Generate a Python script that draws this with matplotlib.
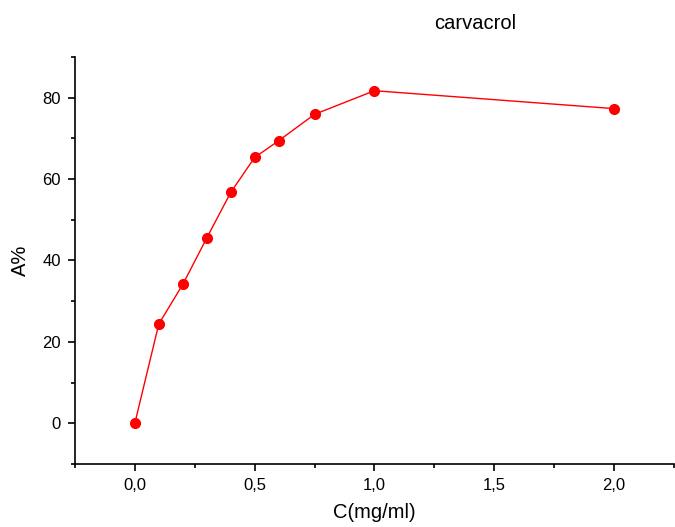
import matplotlib
matplotlib.use("Agg")
import matplotlib.pyplot as plt
from matplotlib.ticker import MultipleLocator, FuncFormatter

# carvacrol inhibition curve
conc = [0.0, 0.1, 0.2, 0.3, 0.4, 0.5, 0.6, 0.75, 1.0, 2.0]
activity = [0.0, 24.4, 34.1, 45.5, 56.7, 65.3, 69.4, 75.9, 81.7, 77.3]

plt.rcParams["font.family"] = ["Liberation Sans", "DejaVu Sans"]

fig = plt.figure(figsize=(6.75, 5.27), dpi=100)
ax = fig.add_axes([0.111, 0.1195, 0.8875, 0.7725])

ax.plot(conc, activity, color="#ff0000", lw=1, marker="o", ms=7,
        mec="#ff0000", mfc="#ff0000")

ax.set_xlim(-0.25, 2.25)
ax.set_ylim(-10, 90)
ax.xaxis.set_major_locator(MultipleLocator(0.5))
ax.xaxis.set_minor_locator(MultipleLocator(0.25))
ax.yaxis.set_major_locator(MultipleLocator(20))
ax.yaxis.set_minor_locator(MultipleLocator(10))
ax.xaxis.set_major_formatter(FuncFormatter(lambda v, p: f"{v:.1f}".replace(".", ",")))
ax.yaxis.set_major_formatter(FuncFormatter(lambda v, p: f"{v:.0f}"))

ax.spines[["top", "right"]].set_visible(False)
for s in ("left", "bottom"):
    ax.spines[s].set_linewidth(1.2)
ax.tick_params(which="major", direction="out", length=5, width=1.2, labelsize=12, pad=5)
ax.tick_params(which="minor", direction="out", length=3, width=1.2)

ax.set_xlabel("C(mg/ml)", fontsize=14.5, labelpad=7)
ax.set_ylabel("A%", fontsize=14.5, labelpad=9)
fig.text(0.704, 0.956, "carvacrol", ha="center", va="center", fontsize=14.5)

fig.savefig("out.png", dpi=100)
